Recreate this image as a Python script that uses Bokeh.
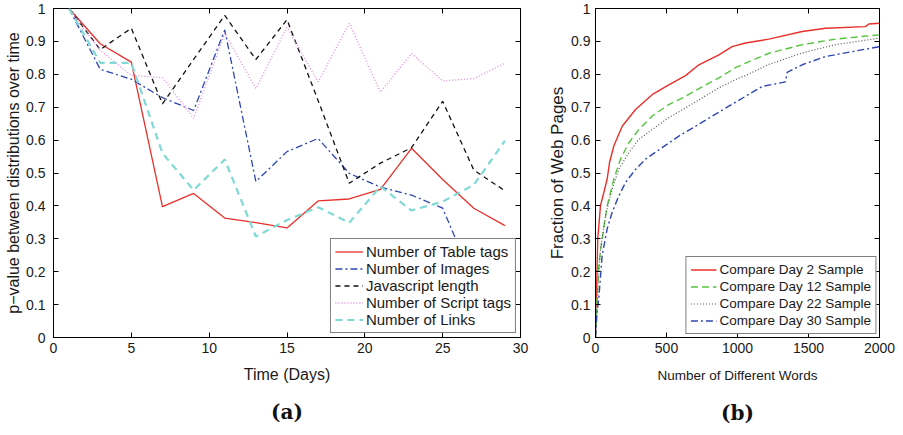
from bokeh.plotting import figure
from bokeh.layouts import row
from bokeh.models import FixedTicker, LinearAxis, Title, CustomJSTickFormatter, Range1d
from bokeh.embed import file_html
from bokeh.resources import INLINE

# ---------------- data: panel (a) ----------------
days = [1, 3, 5, 7, 9, 11, 13, 15, 17, 19, 21, 23, 25, 27, 29]
table_tags = [1.0, 0.893, 0.837, 0.398, 0.438, 0.363, 0.349, 0.333, 0.415, 0.421, 0.450, 0.575, 0.480, 0.393, 0.340]
images = [1.0, 0.815, 0.785, 0.729, 0.690, 0.935, 0.474, 0.565, 0.605, 0.499, 0.457, 0.433, 0.393, 0.170, 0.130]
js_length = [1.0, 0.875, 0.940, 0.710, 0.845, 0.979, 0.845, 0.966, 0.720, 0.469, 0.530, 0.577, 0.718, 0.509, 0.446]
script_tags = [1.0, 0.873, 0.797, 0.790, 0.666, 0.924, 0.757, 0.943, 0.777, 0.955, 0.746, 0.863, 0.780, 0.787, 0.834]
links = [1.0, 0.835, 0.835, 0.560, 0.448, 0.541, 0.307, 0.357, 0.396, 0.349, 0.459, 0.386, 0.413, 0.464, 0.598]
a_xticks = [0, 5, 10, 15, 20, 25, 30]
a_yticks = [0, 0.1, 0.2, 0.3, 0.4, 0.5, 0.6, 0.7, 0.8, 0.9, 1]
a_ylabels = ["0", "0.1", "0.2", "0.3", "0.4", "0.5", "0.6", "0.7", "0.8", "0.9", "1"]

# ---------------- data: panel (b) ----------------
day2_x = [0, 2, 7, 16, 35, 82, 99, 129, 188, 282, 399, 516, 634, 728, 869, 962, 1056, 1221, 1456, 1620, 1901, 1925, 2000]
day2_y = [0, 0.08, 0.139, 0.30, 0.40, 0.481, 0.532, 0.582, 0.642, 0.693, 0.738, 0.768, 0.796, 0.829, 0.859, 0.884, 0.895, 0.907, 0.930, 0.940, 0.945, 0.953, 0.955]
day12_x = [0, 5, 12, 23, 47, 82, 129, 176, 235, 305, 399, 516, 634, 751, 869, 986, 1056, 1221, 1456, 1690, 2000]
day12_y = [0, 0.05, 0.13, 0.219, 0.30, 0.40, 0.481, 0.542, 0.592, 0.632, 0.673, 0.708, 0.733, 0.762, 0.789, 0.820, 0.834, 0.864, 0.890, 0.907, 0.920]
day22_x = [0, 8, 20, 35, 70, 117, 164, 235, 305, 399, 516, 634, 751, 869, 986, 1056, 1221, 1456, 1690, 2000]
day22_y = [0, 0.06, 0.17, 0.269, 0.37, 0.451, 0.511, 0.562, 0.602, 0.632, 0.668, 0.698, 0.728, 0.759, 0.784, 0.796, 0.830, 0.865, 0.890, 0.910]
day30_x = [0, 5, 12, 23, 47, 82, 117, 164, 211, 282, 352, 469, 587, 704, 822, 939, 1056, 1174, 1338, 1350, 1456, 1620, 1808, 2000]
day30_y = [0, 0.04, 0.08, 0.118, 0.249, 0.33, 0.38, 0.43, 0.471, 0.511, 0.542, 0.577, 0.612, 0.642, 0.673, 0.703, 0.733, 0.763, 0.777, 0.806, 0.829, 0.854, 0.869, 0.884]
b_xticks = [0, 500, 1000, 1500, 2000]

FONT = "Liberation Sans"
TXT = "#1a1a1a"


def box_axes(p, xticks, yticks, tick_fs, ylabel_fs):
    p.outline_line_color = "black"
    p.outline_line_width = 1
    p.grid.visible = False
    for ax in (p.xaxis[0], p.yaxis[0]):
        ax.major_tick_in = 5
        ax.major_tick_out = 0
        ax.minor_tick_line_color = None
        ax.axis_line_color = "black"
        ax.major_label_text_font = FONT
        ax.major_label_text_font_size = tick_fs
        ax.major_label_text_color = TXT
        ax.axis_label_text_font = FONT
        ax.axis_label_text_font_style = "normal"
        ax.axis_label_text_color = TXT
    p.yaxis[0].axis_label_text_font_size = ylabel_fs
    p.xaxis[0].ticker = FixedTicker(ticks=xticks)
    p.yaxis[0].ticker = FixedTicker(ticks=yticks)
    empty = CustomJSTickFormatter(code="return ''")
    top = LinearAxis(ticker=FixedTicker(ticks=xticks), formatter=empty,
                     major_tick_in=5, major_tick_out=0, minor_tick_line_color=None,
                     axis_line_color=None, major_label_standoff=0,
                     major_label_text_font_size="1px")
    right = LinearAxis(ticker=FixedTicker(ticks=yticks), formatter=empty,
                       major_tick_in=5, major_tick_out=0, minor_tick_line_color=None,
                       axis_line_color=None, major_label_standoff=0,
                       major_label_text_font_size="1px")
    p.add_layout(top, "above")
    p.add_layout(right, "right")


def xlabel(p, text, fs, standoff):
    p.add_layout(Title(text=text, align="center", text_font=FONT,
                       text_font_style="normal", text_font_size=fs,
                       text_color=TXT, standoff=standoff), "below")


def caption(p, text, standoff):
    p.add_layout(Title(text=text, align="center", text_font="DejaVu Serif",
                       text_font_style="bold", text_font_size="20px",
                       text_color="#111111", standoff=standoff), "below")


def style_legend(lg, fs, gw, margin):
    lg.location = "bottom_right"
    lg.border_line_color = "black"
    lg.border_line_width = 1.5
    lg.background_fill_alpha = 1
    lg.label_text_font = FONT
    lg.label_text_font_size = fs
    lg.label_text_color = TXT
    lg.glyph_width = gw
    lg.glyph_height = 17
    lg.label_height = 17
    lg.label_standoff = 3
    lg.padding = 4
    lg.spacing = 0
    lg.margin = margin


# ---------------- panel (a) ----------------
pa = figure(width=543, height=431, output_backend="svg", toolbar_location=None,
            x_range=Range1d(0, 30), y_range=Range1d(0, 1),
            min_border_left=53, min_border_right=23, min_border_top=8, min_border_bottom=93,
            y_axis_label="p\u2212value between distributions over time")
box_axes(pa, a_xticks, a_yticks, "14px", "16px")
pa.yaxis[0].major_label_overrides = {t: s for t, s in zip(a_yticks, a_ylabels)}
pa.yaxis[0].major_label_standoff = 8
pa.yaxis[0].axis_label_standoff = 1
pa.xaxis[0].major_label_standoff = 10
xlabel(pa, "Time (Days)", "16px", 16)
pa.line(days, table_tags, color="#e8302a", line_width=1.3, legend_label="Number of Table tags")
pa.line(days, images, color="#2f46b3", line_width=1.3, line_dash="7 3 2 3", legend_label="Number of Images")
pa.line(days, js_length, color="#111111", line_width=1.3, line_dash="5 4", legend_label="Javascript length")
pa.line(days, script_tags, color="#e08ae0", line_width=1.3, line_dash="1 2", legend_label="Number of Script tags")
pa.line(days, links, color="#7fdad5", line_width=2.2, line_dash="7 5", legend_label="Number of Links")
style_legend(pa.legend[0], "15px", 28, 4)
caption(pa, "(a)", 15)

# ---------------- panel (b) ----------------
pb = figure(width=359, height=431, output_backend="svg", toolbar_location=None,
            x_range=Range1d(0, 2000), y_range=Range1d(0, 1),
            min_border_left=52, min_border_right=23, min_border_top=8, min_border_bottom=93,
            y_axis_label="Fraction of Web Pages")
box_axes(pb, b_xticks, a_yticks, "14px", "17px")
pb.yaxis[0].major_label_overrides = {t: s for t, s in zip(a_yticks, a_ylabels)}
pb.yaxis[0].major_label_standoff = 5
pb.yaxis[0].axis_label_standoff = 1
pb.xaxis[0].major_label_standoff = 10
xlabel(pb, "Number of Different Words", "13.5px", 21)
pb.line(day2_x, day2_y, color="#e8302a", line_width=1.4, legend_label="Compare Day 2 Sample")
pb.line(day12_x, day12_y, color="#55c43f", line_width=1.4, line_dash="7 4", legend_label="Compare Day 12 Sample")
pb.line(day22_x, day22_y, color="#555555", line_width=1.2, line_dash="1 2", legend_label="Compare Day 22 Sample")
pb.line(day30_x, day30_y, color="#2f46b3", line_width=1.4, line_dash="7 3 2 3", legend_label="Compare Day 30 Sample")
style_legend(pb.legend[0], "13.5px", 26, 3)
caption(pb, "(b)", 11)

layout = row(pa, pb)
open("out.html", "w").write(file_html(layout, INLINE))
